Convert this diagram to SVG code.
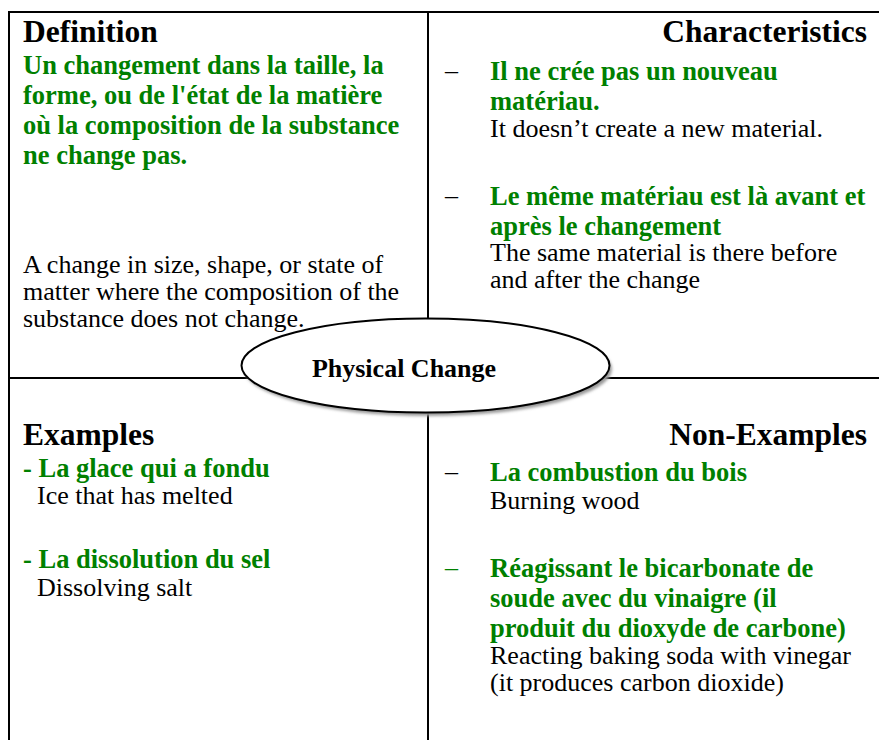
<svg xmlns="http://www.w3.org/2000/svg" width="879" height="740" viewBox="0 0 879 740">
<style>
text{font-family:"Liberation Serif",Tinos,"Times New Roman","DejaVu Serif",serif;}
.h{font-size:31.5px;font-weight:bold;fill:#000;}
.g{font-size:26.5px;font-weight:bold;fill:#008000;}
.b{font-size:26px;font-weight:normal;fill:#000;}
.d{font-size:26px;fill:#000;}
.ln{stroke:#000;stroke-width:2;fill:none;}
</style>
<defs>
<filter id="sh" x="-10%" y="-20%" width="120%" height="150%">
<feGaussianBlur stdDeviation="1.5"/>
</filter>
</defs>
<rect width="879" height="740" fill="#fff"/>
<g id="connectors">
<line class="ln" x1="8" y1="12" x2="879" y2="12"/>
<line class="ln" x1="9" y1="11" x2="9" y2="740"/>
<line class="ln" x1="428" y1="11" x2="428" y2="740"/>
<line class="ln" x1="9" y1="378" x2="879" y2="378"/>
</g>
<g id="definition">
<text class="h" x="23" y="42">Definition</text>
<text class="g" x="23" y="74">Un changement dans la taille, la</text>
<text class="g" x="23" y="104">forme, ou de l'état de la matière</text>
<text class="g" x="23" y="134">où la composition de la substance</text>
<text class="g" x="23" y="164">ne change pas.</text>
<text class="b" x="23" y="273">A change in size, shape, or state of</text>
<text class="b" x="23" y="300">matter where the composition of the</text>
<text class="b" x="23" y="327">substance does not change.</text>
</g>
<g id="characteristics">
<text class="h" x="867" y="42" text-anchor="end">Characteristics</text>
<text class="d" x="445" y="79">–</text>
<text class="g" x="490" y="80">Il ne crée pas un nouveau</text>
<text class="g" x="490" y="110">matériau.</text>
<text class="b" x="490" y="137">It doesn’t create a new material.</text>
<text class="d" x="445" y="204">–</text>
<text class="g" x="490" y="205">Le même matériau est là avant et</text>
<text class="g" x="490" y="235">après le changement</text>
<text class="b" x="490" y="261">The same material is there before</text>
<text class="b" x="490" y="288">and after the change</text>
</g>
<g id="examples">
<text class="h" x="23" y="445">Examples</text>
<text class="g" x="23" y="477">- La glace qui a fondu</text>
<text class="b" x="37" y="504">Ice that has melted</text>
<text class="g" x="23" y="568">- La dissolution du sel</text>
<text class="b" x="37" y="596">Dissolving salt</text>
</g>
<g id="non-examples">
<text class="h" x="867" y="445" text-anchor="end">Non-Examples</text>
<text class="d" x="445" y="480">–</text>
<text class="g" x="490" y="481">La combustion du bois</text>
<text class="b" x="490" y="509">Burning wood</text>
<text class="d" x="445" y="576" style="fill:#008000">–</text>
<text class="g" x="490" y="577">Réagissant le bicarbonate de</text>
<text class="g" x="490" y="607">soude avec du vinaigre (il</text>
<text class="g" x="490" y="637">produit du dioxyde de carbone)</text>
<text class="b" x="490" y="664">Reacting baking soda with vinegar</text>
<text class="b" x="490" y="691">(it produces carbon dioxide)</text>
</g>
<g id="physical-change">
<ellipse cx="428" cy="369" rx="184" ry="47" fill="#999" filter="url(#sh)"/>
<ellipse cx="425.5" cy="365.5" rx="184" ry="47" fill="#fff" stroke="#000" stroke-width="2"/>
<text x="404" y="377" text-anchor="middle" style="font-size:26px;font-weight:bold;fill:#000">Physical Change</text>
</g>
</svg>
